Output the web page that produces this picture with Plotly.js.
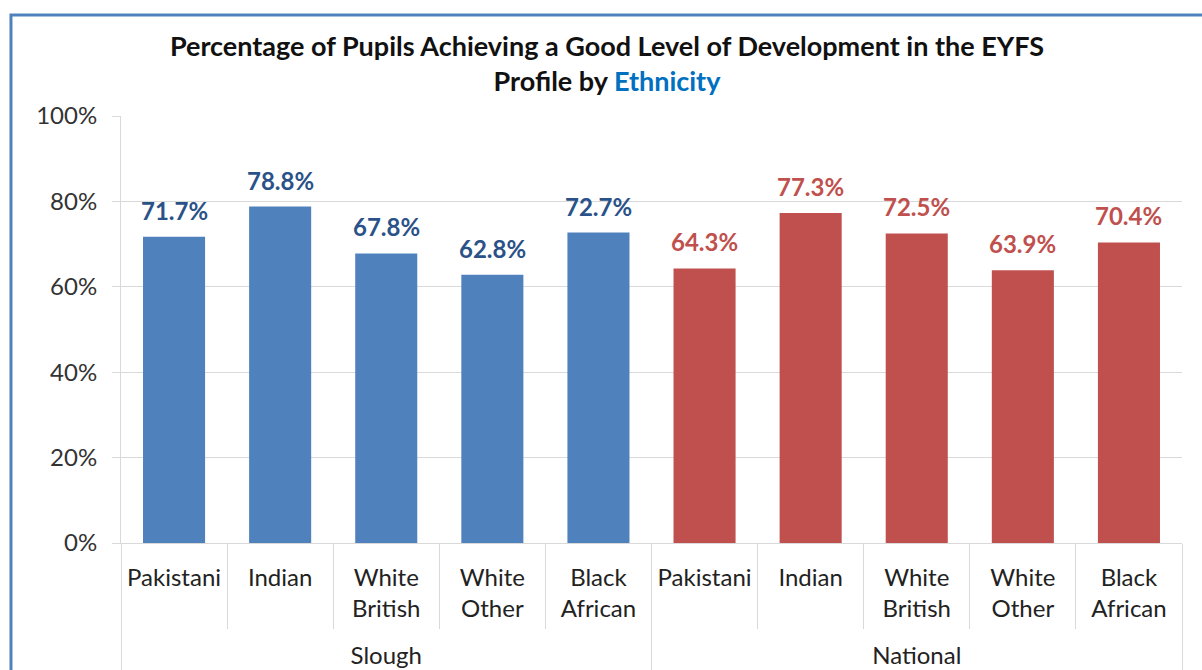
<!DOCTYPE html>
<html>
<head>
<meta charset="utf-8">
<script src="https://cdn.plot.ly/plotly-3.0.1.min.js"></script>
<style>
  html, body { margin: 0; padding: 0; background: #ffffff; }
  #chart { width: 1202px; height: 670px; }
</style>
</head>
<body>
<div id="chart"></div>
<script>
// ---- data ----
const ethnicities = ["Pakistani", "Indian", "White<br>British", "White<br>Other", "Black<br>African"];
const sloughValues = [0.717, 0.788, 0.678, 0.628, 0.727];
const nationalValues = [0.643, 0.773, 0.725, 0.639, 0.704];
const groups = ["Slough", "National"];
const yTickVals = [0, 0.2, 0.4, 0.6, 0.8, 1.0];

const FONT = "Lato, 'Liberation Sans', Arial, sans-serif";
const blue = "#4F81BD", red = "#C0504D";
const blueText = "#2A5288", redText = "#C0504D";
const grid = "#D9D9D9";

const n = ethnicities.length;
// category positions on the x scale (index of each category)
const sloughIdx = ethnicities.map((_, i) => i);
const nationalIdx = ethnicities.map((_, i) => i + n);
const allIdx = sloughIdx.concat(nationalIdx);
const allLabels = ethnicities.concat(ethnicities);
const boundaries = [-0.5].concat(allIdx.map(i => i + 0.5));
const groupCenters = groups.map((_, g) => g * n + (n - 1) / 2);
const groupBoundaries = [-0.5].concat(groups.map((_, g) => (g + 1) * n - 0.5));

const traces = [
  { type: "bar", name: groups[0], x: sloughIdx, y: sloughValues,
    marker: { color: blue }, hoverinfo: "skip" },
  { type: "bar", name: groups[1], x: nationalIdx, y: nationalValues,
    marker: { color: red }, hoverinfo: "skip" },
  { type: "scatter", mode: "markers", x: groupCenters, y: [null, null],
    xaxis: "x2", yaxis: "y", hoverinfo: "skip", showlegend: false }
];

const annotations = [];
sloughValues.forEach((v, i) => annotations.push({
  x: sloughIdx[i], y: v, xref: "x", yref: "y", text: (v * 100).toFixed(1) + "%",
  showarrow: false, yanchor: "bottom", yshift: 10,
  font: { family: FONT, size: 24, color: blueText, weight: "bold" }
}));
nationalValues.forEach((v, i) => annotations.push({
  x: nationalIdx[i], y: v, xref: "x", yref: "y", text: (v * 100).toFixed(1) + "%",
  showarrow: false, yanchor: "bottom", yshift: 10,
  font: { family: FONT, size: 24, color: redText, weight: "bold" }
}));

const xRange = [-0.5, allIdx.length - 0.5];

const layout = {
  width: 1202, height: 670,
  margin: { l: 121, r: 20, t: 116, b: 127 },
  paper_bgcolor: "#ffffff", plot_bgcolor: "#ffffff",
  showlegend: false,
  barmode: "relative",
  bargap: 0.415,
  font: { family: FONT, size: 24, color: "#222222" },
  title: {
    text: "<b>Percentage of Pupils Achieving a Good Level of Development in the EYFS<br>Profile by <span style='color:#0070C0'>Ethnicity</span></b>",
    font: { family: FONT, size: 27, color: "#111111" },
    xref: "container", x: 0.505, xanchor: "center",
    yref: "container", y: 0.917, yanchor: "top"
  },
  xaxis: {
    type: "linear", range: xRange,
    tickmode: "array", tickvals: allIdx, ticktext: allLabels,
    ticks: "", ticklabelstandoff: 13,
    minor: { tickmode: "array", tickvals: boundaries, ticks: "outside", ticklen: 85,
             tickcolor: grid, tickwidth: 1, showgrid: false },
    showline: true, linecolor: grid, linewidth: 1,
    showgrid: false, zeroline: false,
    tickfont: { family: FONT, size: 24, color: "#222222" }
  },
  xaxis2: {
    type: "linear", range: xRange, overlaying: "x", anchor: "free", position: 0, side: "bottom",
    tickmode: "array", tickvals: groupCenters, ticktext: groups,
    ticks: "", ticklabelstandoff: 96,
    minor: { tickmode: "array", tickvals: groupBoundaries, ticks: "outside", ticklen: 140,
             tickcolor: grid, tickwidth: 1, showgrid: false },
    showline: false, showgrid: false, zeroline: false,
    tickfont: { family: FONT, size: 24, color: "#222222" }
  },
  yaxis: {
    range: [0, 1],
    tickvals: yTickVals,
    tickformat: ".0%",
    showgrid: true, gridcolor: grid, gridwidth: 1,
    zeroline: false,
    showline: true, linecolor: grid, linewidth: 1,
    ticks: "outside", ticklen: 8, tickcolor: grid,
    ticklabelstandoff: 10,
    tickfont: { family: FONT, size: 24, color: "#333333" }
  },
  annotations: annotations,
  shapes: [{
    type: "path", xref: "paper", yref: "paper",
    path: "M -0.1037,-0.35 L -0.1037,1.2365 L 1.2,1.2365",
    line: { color: "#4F81BD", width: 3 }
  }]
};

Plotly.newPlot("chart", traces, layout, { displayModeBar: false, staticPlot: true });
</script>
</body>
</html>
